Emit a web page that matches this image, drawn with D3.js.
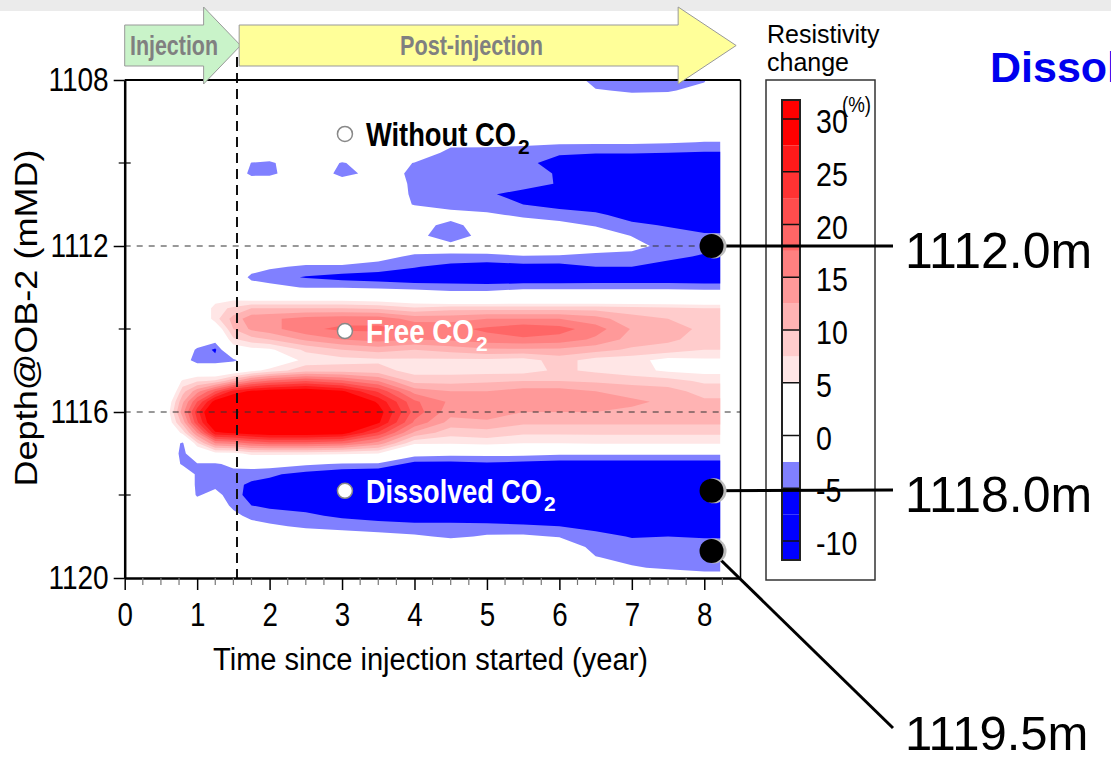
<!DOCTYPE html>
<html>
<head>
<meta charset="utf-8">
<script src="https://cdn.jsdelivr.net/npm/d3@7"></script>
<style>
  body { margin: 0; background: #fff; }
  svg { display: block; }
  text { font-family: 'Liberation Sans', Arial, sans-serif; }
</style>
</head>
<body>
<svg id="chart" width="1111" height="761"></svg>
<script>
// ---- data ----
// sample times (year) of the depth profiles
const times = [0, 0.6, 0.8, 1.0, 1.25, 1.5, 1.75, 2.0, 2.5, 3.0, 3.5, 4.0, 4.5, 5.0, 5.5, 6.0, 6.5, 7.0, 7.5, 8.0, 8.22];
// sample depths (mMD) of each profile
const depths = [1108, 1108.25, 1108.5, 1108.75, 1109, 1109.25, 1109.5, 1109.75, 1110, 1110.25,
  1110.5, 1110.75, 1111, 1111.25, 1111.5, 1111.75, 1112, 1112.25, 1112.5, 1112.75,
  1113, 1113.25, 1113.5, 1113.75, 1114, 1114.25, 1114.5, 1114.75, 1115, 1115.25,
  1115.5, 1115.75, 1116, 1116.25, 1116.5, 1116.75, 1117, 1117.25, 1117.5, 1117.75,
  1118, 1118.25, 1118.5, 1118.75, 1119, 1119.25, 1119.5, 1119.75, 1120];

// resistivity change (%) profiles, one per time, top to bottom
const profiles = [
  // 0.0
  [0,0,0,0,0,0,0,0,0,0, 0,0,0,0,0,0,0,0,0,0, 0,0,0,0,0,0,0,0,0,0, 0,0,0,0,0,0,0,0,0,0, 0,0,0,0,0,0,0,0,0],
  // 0.6
  [0,0,0,0,0,0,0,0,0,0, 0,0,0,0,0,0,0,0,0,0, 0,0,0,0,0,0,0,0,0,0, 0,3,4,3,0,0,0,0,0,0, 0,0,0,0,0,0,0,0,0],
  // 0.8
  [0,0,0,0,0,0,0,0,0,0, 0,0,0,0,0,0,0,0,0,0, 0,0,0,0,0,0,0,0,0,5.5, 9,12,14,11,6,-3,-3.5,-3,0,0, 0,0,0,0,0,0,0,0,0],
  // 1.0
  [0,0,0,0,0,0,0,0,0,0, 0,0,0,0,0,0,0,0,0,0, 0,0,0,0,0,0,-3,-4.5,2,7, 14,20,24,22,15,7,1,-2.7,-3,-3, -2.8,-1,0,0,0,0,0,0,0],
  // 1.25
  [0,0,0,0,0,0,0,0,0,0, 0,0,0,0,0,0,0,0,0,0, 0,3,6.5,6.5,2,-1,-5.5,-4,1,8, 20,29,33,32,27,15,4,-3,-3.5,-3.2, -1.5,0,0,0,0,0,0,0,0],
  // 1.5
  [0,0,0,0,0,0,0,0,0,0, 0,0,0,0,0,0,0,0,0,0, 0,4,8,11,10,7,3,-3.2,2,12, 26,31,34,33,28,16,4,-1.5,-3.8,-4.3, -4,-3.3,-1.5,0,0,0,0,0,0],
  // 1.75
  [0,0,0,0,0,0,0,0,-2.6,-3.3, 0,0,0,0,0,0,0,0,-1,-3.2, -1,3,10,14,13,9,4,0,4,16, 28,33,35,34,29,18,6,-1,-4,-5.5, -6,-5,-3.5,-1,0,0,0,0,0],
  // 2.0
  [0,0,0,0,0,0,0,0,-3,-3.2, 0,0,0,0,0,0,0,0,-2,-4, -1.5,3,10,14.5,14,10,4.5,1,6,18, 29,34,36,35,30,19,6,-1,-4.5,-6, -6.5,-5.5,-4,-2,0,0,0,0,0],
  // 2.5
  [0,0,0,0,0,0,0,0,0,0, 0,0,0,0,0,0,0,0,-3,-5.2, -2.7,3,10,16,17,13,8,6,9,20, 30,34,36,35,30,19,6,-2,-6,-7, -7,-6,-4.5,-3,-0.5,0,0,0,0],
  // 3.0
  [0,0,0,0,0,0,0,0,-2.7,-3.3, -1,0,0,0,0,0,0,0,-3,-6, -2.6,3,10,16.5,18,15,10,6.5,9,18, 28,33,35,34,29,18,5.5,-2.8,-7,-8, -8,-7,-5.5,-3.5,-1,0,0,0,0],
  // 3.5
  [0,0,0,0,0,0,0,0,-1,-1.5, -0.5,0,0,0,0,0,0,-1.5,-3.5,-6.5, -3,2.5,9.5,16.5,18,16,11,7,8.5,15, 22,27,29,28,22,14,5,-3,-7.5,-8.5, -8.5,-7.5,-6,-4,-1.5,0,0,0,0],
  // 4.0
  [0,0,0,0,0,0,0,0,-2.6,-2.9, -3,-3,-2.7,0,-1.5,-1.5,-0.5,-3,-4.8,-7, -3.5,1.5,8,14,17,15,10,7,6.5,9, 14,18,19,17,12,5.5,-1,-6,-8,-8, -8,-8,-6,-4.5,-2,0,0,0,0],
  // 4.5
  [0,0,0,0,0,0,-1.5,-3.5,-4,-4, -4,-4,-3.5,-1.5,-3.2,-4.2,-1.5,-2.9,-6,-7.5, -3.5,-0.5,9,14,16.8,15.5,11,7,6.5,9, 12.5,14.5,13.5,11.5,8.5,5.5,-1.5,-6,-8.5,-8.5, -8.5,-8.5,-7,-4,-3,0,0,0,0],
  // 5.0
  [0,0,0,0,0,0,-1.5,-3.6,-4.2,-4.2, -4.2,-4.7,-4,-2,-1.2,-1.2,-1,-3,-6.5,-8, -3.5,-0.5,9,15,18,16.5,12,7,6.5,9.5, 12.5,14.5,14,12,9,6,-1.5,-5.5,-9,-9, -9,-9,-7.5,-4,-2.2,0,0,0,0],
  // 5.5
  [0,0,0,0,0,0,-1.8,-3.7,-4,-3.8, -4,-5.8,-5,-3,-1,0,-0.8,-2.6,-6,-8, -3,0,9,15,19.5,17,12,6.5,6.5,10, 13.5,14.5,12.5,10.5,8,5,-1.5,-6,-9,-9, -9,-9,-7.5,-4.5,-2,0,0,0,0],
  // 6.0
  [0,0,0,0,0,0,-2,-4.5,-6.5,-5.3, -5.2,-7,-5.8,-4,-1.5,0,-1,-2.7,-6,-8, -3,0,9,15,18.5,16.5,12,8.5,8,10, 13.5,14.5,12.5,10.5,8,5,-2,-6.5,-9.5,-9.5, -9.5,-9.5,-8,-5,-2.7,0,0,0,0],
  // 6.5
  [-3.5,-2.3,0,0,0,0,-2,-4.8,-7,-7.5, -7.5,-7.5,-6.5,-4.5,-2.8,-0.5,-1.5,-3,-5,-7.5, -3,0,9,13.5,16.2,14.5,11,6.5,7,9.5, 12.5,14,12.5,10.5,8,5.5,-2,-6.5,-9,-9, -9,-9,-9,-6,-4,-3.5,-2.4,0,0],
  // 7.0
  [-4,-2.8,-1.5,0,0,0,-2,-4.8,-7,-8, -8,-8,-8,-6,-4.5,-2.6,-1.5,-3.5,-5,-7.5, -3,0,8.5,11,12.3,11.5,9.5,6,6,9, 11.5,13,12,10.5,8,5.5,-2,-6.5,-9.5,-9.5, -9.5,-9.5,-9.5,-8,-5.2,-3.8,-3.2,-2.3,0],
  // 7.5
  [-4,-2.8,-1,0,0,0,-2.2,-5,-7.5,-8.5, -8.5,-8.5,-8.5,-8.5,-5.2,-4,-3.5,-4,-6.5,-7.5, -3,0,8,10,11,10.5,9,4,4.5,8.5, 11,12,11.5,10.5,8,5.5,-2,-6.5,-9.5,-9.5, -9.5,-9.5,-9.5,-9.5,-5,-3.8,-3.3,-2.8,-1],
  // 8.0
  [-2.8,-1.5,0,0,0,-0.5,-2.6,-5.2,-8,-9, -9,-9,-9,-9,-7,-4.3,-3.5,-5.5,-8,-8, -3.2,0,7.5,9,9.5,9,7.5,4.5,4,7, 9,10.5,11,10.5,8,5.5,-2,-6.5,-9.5,-9.5, -9.5,-9.5,-9.5,-9.5,-5.2,-4,-3.5,-3.1,-1.5],
  // 8.22
  [0,0,0,0,0,-0.5,-2.6,-5.2,-8,-9, -9,-9,-9,-9,-7,-4.3,-3.5,-5.5,-8,-8, -3.2,0,7.5,9,9.5,9,7.5,4.5,4,7, 9,10.5,11,10.5,8,5.5,-2,-6.5,-9.5,-9.5, -9.5,-9.5,-9.5,-9.5,-5.2,-4,-3.5,-3.1,-1.5]
];

// colour classes of the legend
const redLevels = [5, 7.5, 10, 12.5, 15, 17.5, 20, 22.5, 25, 27.5];
const redColors = ['#ffe6e6', '#ffcccc', '#ffb3b3', '#ff9999', '#ff8080', '#ff6666', '#ff4d4d', '#ff3333', '#ff1a1a', '#ff0000'];
const blueLevels = [-2.5, -5];
const blueColors = ['#8080ff', '#0000ff'];
const legendBounds = [-11.8, -10, -7.5, -5, -2.5, 0, 2.5, 5, 7.5, 10, 12.5, 15, 17.5, 20, 22.5, 25, 27.5, 30, 31.8];
const legendColors = ['#0000ff', '#0000ff', '#0000ff', '#8080ff', '#ffffff', '#ffffff', '#ffffff',
  '#ffe6e6', '#ffcccc', '#ffb3b3', '#ff9999', '#ff8080', '#ff6666', '#ff4d4d', '#ff3333', '#ff1a1a', '#ff0000', '#ff0000'];
const legendTicks = [30, 25, 20, 15, 10, 5, 0, -5, -10];

const depthTicks = [1108, 1112, 1116, 1120];
const depthMinor = [1110, 1114, 1118];
const timeTicks = [0, 1, 2, 3, 4, 5, 6, 7, 8];
const timeMinor = [0.25, 0.5, 0.75, 1.25, 1.5, 1.75, 2.25, 2.5, 2.75, 3.25, 3.5, 3.75, 4.25, 4.5, 4.75,
  5.25, 5.5, 5.75, 6.25, 6.5, 6.75, 7.25, 7.5, 7.75, 8.25];
const injectionEnd = 1.55;
const guideDepths = [1112, 1116];

const phaseNames = ['Injection', 'Post-injection'];
const phaseStart = [0, 1.58];
const phaseEnd = [1.6, 8.44];

const zoneNames = ['Without CO', 'Free CO', 'Dissolved CO'];
const zoneDepths = [1109.3, 1114.05, 1117.9];
const zoneTime = 3.04;

const obsLabels = ['1112.0m', '1118.0m', '1119.5m'];
const obsDepths = [1112.0, 1117.9, 1119.35];
const obsTime = 8.1;

// ---- drawing ----
const W = 1111, H = 761;
const svg = d3.select('#chart');
const x = d3.scaleLinear().domain([0, 8.5]).range([124.7, 740.5]);
const y = d3.scaleLinear().domain([1108, 1120]).range([80, 578]);

function squeeze(sel, f) {
  sel.each(function () {
    const w = this.getComputedTextLength();
    d3.select(this).attr('textLength', w * f).attr('lengthAdjust', 'spacingAndGlyphs');
  });
}

svg.append('rect').attr('width', W).attr('height', 11).attr('fill', '#ebebeb');

svg.append('defs').append('clipPath').attr('id', 'plotclip')
  .append('rect').attr('x', x(0)).attr('y', y(1108)).attr('width', x(8.5) - x(0)).attr('height', y(1120) - y(1108));

// contour field
const n = times.length, m = depths.length;
const grid = [];
for (let j = 0; j < m; j++) for (let i = 0; i < n; i++) grid.push(profiles[i][j]);
const ix = d3.scaleLinear().domain(times.map((t, i) => i + 0.5)).range(times).clamp(true);
const iy = d3.scaleLinear().domain(depths.map((d, j) => j + 0.5)).range(depths).clamp(true);
const path = d3.geoPath(d3.geoTransform({
  point(px, py) { this.stream.point(x(ix(px)), y(iy(py))); }
}));

const field = svg.append('g').attr('clip-path', 'url(#plotclip)');
const negBands = d3.contours().size([n, m]).thresholds(blueLevels.map(v => -v))(grid.map(v => -v));
field.selectAll('path.neg').data(negBands).join('path').attr('class', 'neg')
  .attr('d', path).attr('fill', (d, i) => blueColors[i]);
const posBands = d3.contours().size([n, m]).thresholds(redLevels)(grid);
field.selectAll('path.pos').data(posBands).join('path').attr('class', 'pos')
  .attr('d', path).attr('fill', (d, i) => redColors[i]);

// guide lines
svg.selectAll('line.guide').data(guideDepths).join('line').attr('class', 'guide')
  .attr('x1', x(0)).attr('x2', x(8.5)).attr('y1', d => y(d)).attr('y2', d => y(d))
  .attr('stroke', '#333').attr('stroke-width', 1).attr('stroke-dasharray', '6,6');
svg.append('line').attr('x1', x(injectionEnd)).attr('x2', x(injectionEnd)).attr('y1', 57).attr('y2', y(1120))
  .attr('stroke', '#111').attr('stroke-width', 2).attr('stroke-dasharray', '10,6');

// frame
svg.append('line').attr('x1', x(0)).attr('x2', x(8.5)).attr('y1', y(1108)).attr('y2', y(1108))
  .attr('stroke', '#000').attr('stroke-width', 2);
svg.append('line').attr('x1', x(8.5)).attr('x2', x(8.5)).attr('y1', y(1108)).attr('y2', y(1120))
  .attr('stroke', '#000').attr('stroke-width', 1.5);

// axes
const yAxis = svg.append('g').attr('transform', `translate(${x(0)},0)`)
  .call(d3.axisLeft(y).tickValues(depthTicks).tickSize(11).tickPadding(5).tickSizeOuter(0).tickFormat(d3.format('d')))
  .attr('font-size', 33).attr('font-family', "'Liberation Sans', Arial, sans-serif");
yAxis.select('.domain').attr('stroke-width', 2.5);
yAxis.selectAll('.tick line').attr('stroke-width', 1.5);
yAxis.selectAll('.tick text').attr('fill', '#000');
squeeze(yAxis.selectAll('.tick text'), 0.85);
svg.selectAll('line.ymin').data(depthMinor).join('line').attr('class', 'ymin')
  .attr('x1', x(0) - 6).attr('x2', x(0) + 6).attr('y1', d => y(d)).attr('y2', d => y(d))
  .attr('stroke', '#000').attr('stroke-width', 1.2);

const xAxis = svg.append('g').attr('transform', `translate(0,${y(1120)})`)
  .call(d3.axisBottom(x).tickValues(timeTicks).tickSize(12).tickPadding(13).tickSizeOuter(0))
  .attr('font-size', 33).attr('font-family', "'Liberation Sans', Arial, sans-serif");
xAxis.select('.domain').attr('stroke-width', 2.5);
xAxis.selectAll('.tick line').attr('stroke-width', 1.5);
xAxis.selectAll('.tick text').attr('fill', '#000');
squeeze(xAxis.selectAll('.tick text'), 0.84);
svg.selectAll('line.xmin').data(timeMinor).join('line').attr('class', 'xmin')
  .attr('x1', d => x(d)).attr('x2', d => x(d)).attr('y1', y(1120)).attr('y2', y(1120) + 7)
  .attr('stroke', '#777').attr('stroke-width', 1.2);

svg.append('text').attr('x', 430.5).attr('y', 670).attr('text-anchor', 'middle')
  .attr('font-size', 31).attr('textLength', 435).attr('lengthAdjust', 'spacingAndGlyphs')
  .text('Time since injection started (year)');
svg.append('text').attr('transform', 'translate(37,318) rotate(-90)').attr('text-anchor', 'middle')
  .attr('font-size', 31).attr('textLength', 337).attr('lengthAdjust', 'spacingAndGlyphs')
  .text('Depth@OB-2 (mMD)');

// phase arrows
const headLen = [37, 58];
const phaseFill = ['#c9f3c9', '#ffff99'];
const phaseText = [174, 471.5];
const phaseWidth = [88, 143];
phaseNames.forEach((name, i) => {
  const x0 = x(phaseStart[i]), tip = x(phaseEnd[i]), neck = tip - headLen[i];
  svg.append('path')
    .attr('d', `M${x0},25 L${neck},25 L${neck},7 L${tip},45.5 L${neck},84 L${neck},66 L${x0},66 Z`)
    .attr('fill', phaseFill[i]).attr('stroke', '#999').attr('stroke-width', 1);
  svg.append('text').attr('x', phaseText[i]).attr('y', 55).attr('text-anchor', 'middle')
    .attr('font-size', 28).attr('font-weight', 'bold').attr('fill', '#808080')
    .attr('textLength', phaseWidth[i]).attr('lengthAdjust', 'spacingAndGlyphs').text(name);
});

// zone markers
const zoneColor = ['#000', '#fff', '#fff'];
const zoneWidth = [150, 108, 176];
zoneNames.forEach((name, i) => {
  const cx = x(zoneTime), cy = y(zoneDepths[i]);
  svg.append('circle').attr('cx', cx).attr('cy', cy).attr('r', 7.5)
    .attr('fill', '#fff').attr('stroke', '#888').attr('stroke-width', 1.5);
  svg.append('text').attr('x', cx + 21).attr('y', cy + 12)
    .attr('font-size', 33).attr('font-weight', 'bold').attr('fill', zoneColor[i])
    .attr('textLength', zoneWidth[i]).attr('lengthAdjust', 'spacingAndGlyphs').text(name);
  svg.append('text').attr('x', cx + 23 + zoneWidth[i]).attr('y', cy + 20)
    .attr('font-size', 21).attr('font-weight', 'bold').attr('fill', zoneColor[i]).text('2');
});

// legend
const ly = d3.scaleLinear().domain([-10, 30]).range([541, 119]);
svg.append('rect').attr('x', 766).attr('y', 80).attr('width', 109).attr('height', 500)
  .attr('fill', '#fff').attr('stroke', '#333').attr('stroke-width', 1.5);
svg.append('text').attr('x', 767).attr('y', 43).attr('font-size', 25).text('Resistivity');
svg.append('text').attr('x', 767).attr('y', 71).attr('font-size', 25).text('change');
svg.selectAll('rect.seg').data(legendColors).join('rect').attr('class', 'seg')
  .attr('x', 782).attr('width', 18)
  .attr('y', (d, i) => ly(legendBounds[i + 1])).attr('height', (d, i) => ly(legendBounds[i]) - ly(legendBounds[i + 1]))
  .attr('fill', d => d);
svg.selectAll('line.lt').data(legendTicks).join('line').attr('class', 'lt')
  .attr('x1', 782).attr('x2', 800).attr('y1', d => ly(d)).attr('y2', d => ly(d))
  .attr('stroke', '#111').attr('stroke-width', 1.5);
svg.append('rect').attr('x', 782).attr('y', ly(31.8)).attr('width', 18).attr('height', ly(-11.8) - ly(31.8))
  .attr('fill', 'none').attr('stroke', '#222').attr('stroke-width', 2);
const lt = svg.selectAll('text.lt').data(legendTicks).join('text').attr('class', 'lt')
  .attr('x', 816).attr('y', d => ly(d) + 2).attr('dy', '0.36em').attr('font-size', 34).text(d => d);
squeeze(lt, 0.84);
const pct = svg.append('text').attr('x', 842).attr('y', 112).attr('font-size', 22).text('(%)');
squeeze(pct, 0.85);

svg.append('text').attr('x', 990).attr('y', 82).attr('font-size', 43).attr('font-weight', 'bold')
  .attr('fill', '#0000ee').text('Dissolved');

// observation points
const labelY = [268, 512, 750];
const labelSize = [50, 50, 49];
const lineEnd = [[893, 246], [893, 490], [893, 728]];
obsDepths.forEach((d, i) => {
  const cx = x(obsTime), cy = y(d);
  svg.append('line').attr('x1', cx).attr('y1', cy).attr('x2', lineEnd[i][0]).attr('y2', lineEnd[i][1])
    .attr('stroke', '#000').attr('stroke-width', 3);
  svg.append('circle').attr('cx', cx + 2.5).attr('cy', cy).attr('r', 12.5)
    .attr('fill', '#bbb');
  svg.append('circle').attr('cx', cx).attr('cy', cy).attr('r', 12).attr('fill', '#000');
  svg.append('text').attr('x', 905).attr('y', labelY[i]).attr('font-size', labelSize[i]).text(obsLabels[i]);
});
</script>
</body>
</html>
